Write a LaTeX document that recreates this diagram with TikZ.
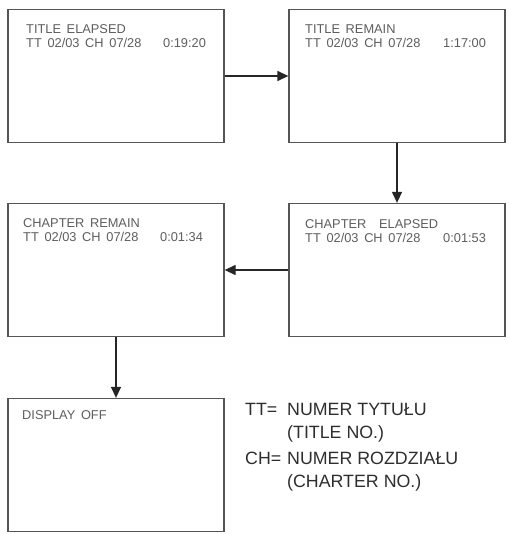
\documentclass[tikz,border=0pt]{standalone}
\usepackage{fontspec}
\setmainfont{Liberation Sans}
\usetikzlibrary{arrows.meta}

\definecolor{framegray}{HTML}{555555}
\definecolor{osdgray}{HTML}{5E5E5E}
\definecolor{keygray}{HTML}{2E2E2E}

\begin{document}
\begin{tikzpicture}[x=1pt, y=-1pt,
        screen/.style={draw=framegray, line width=1.3pt, minimum width=216pt,
            minimum height=133pt, inner sep=0pt},
        osd/.style={anchor=west, inner sep=0pt, text=osdgray,
            font=\fontsize{12.8}{14}\selectfont},
        key/.style={anchor=west, inner sep=0pt, text=keygray,
            font=\fontsize{17.8}{20}\selectfont},
        flow/.style={draw=black!85, line width=1.3pt,
            -{Triangle[length=11pt, width=10pt]}}]
    \useasboundingbox[fill=white] (0,0) rectangle (509,534);
    % screens
    \node[screen] (te) at (116, 76)  {};
    \node[screen] (tr) at (397, 76)  {};
    \node[screen] (ce) at (397, 270) {};
    \node[screen] (cr) at (116, 270) {};
    \node[screen] (off) at (116, 465) {};
    % on-screen texts
    \node[osd] (te1) at (26, 29)  {TITLE\, ELAPSED};
    \node[osd] (te2) at (26, 43)  {TT\, 02/03\, CH\, 07/28};
    \node[osd] (te3) at (163, 43) {0:19:20};
    \node[osd] (tr1) at (305, 29) {TITLE\, REMAIN};
    \node[osd] (tr2) at (305, 43) {TT\, 02/03\, CH\, 07/28};
    \node[osd] (tr3) at (443, 43) {1:17:00};
    \node[osd] (ce1) at (305, 224) {CHAPTER\quad ELAPSED};
    \node[osd] (ce2) at (305, 238) {TT\, 02/03\, CH\, 07/28};
    \node[osd] (ce3) at (443, 238) {0:01:53};
    \node[osd] (cr1) at (23, 223)  {CHAPTER\, REMAIN};
    \node[osd] (cr2) at (23, 237)  {TT\, 02/03\, CH\, 07/28};
    \node[osd] (cr3) at (160, 237) {0:01:34};
    \node[osd] (off1) at (22, 415) {DISPLAY\, OFF};
    % legend
    \node[key] (k1) at (245, 409) {TT=};
    \node[key] (k2) at (287, 409) {NUMER TYTUŁU};
    \node[key] (k3) at (287, 434) {(TITLE NO.)};
    \node[key] (k4) at (245, 458) {CH=};
    \node[key] (k5) at (287, 458) {NUMER ROZDZIAŁU};
    \node[key] (k6) at (287, 483) {(CHARTER NO.)};
    % order of the displays
    \draw[flow] (te) -- (tr);
    \draw[flow] (tr) -- (ce);
    \draw[flow] (ce) -- (cr);
    \draw[flow] (cr) -- (off);
\end{tikzpicture}
\end{document}
